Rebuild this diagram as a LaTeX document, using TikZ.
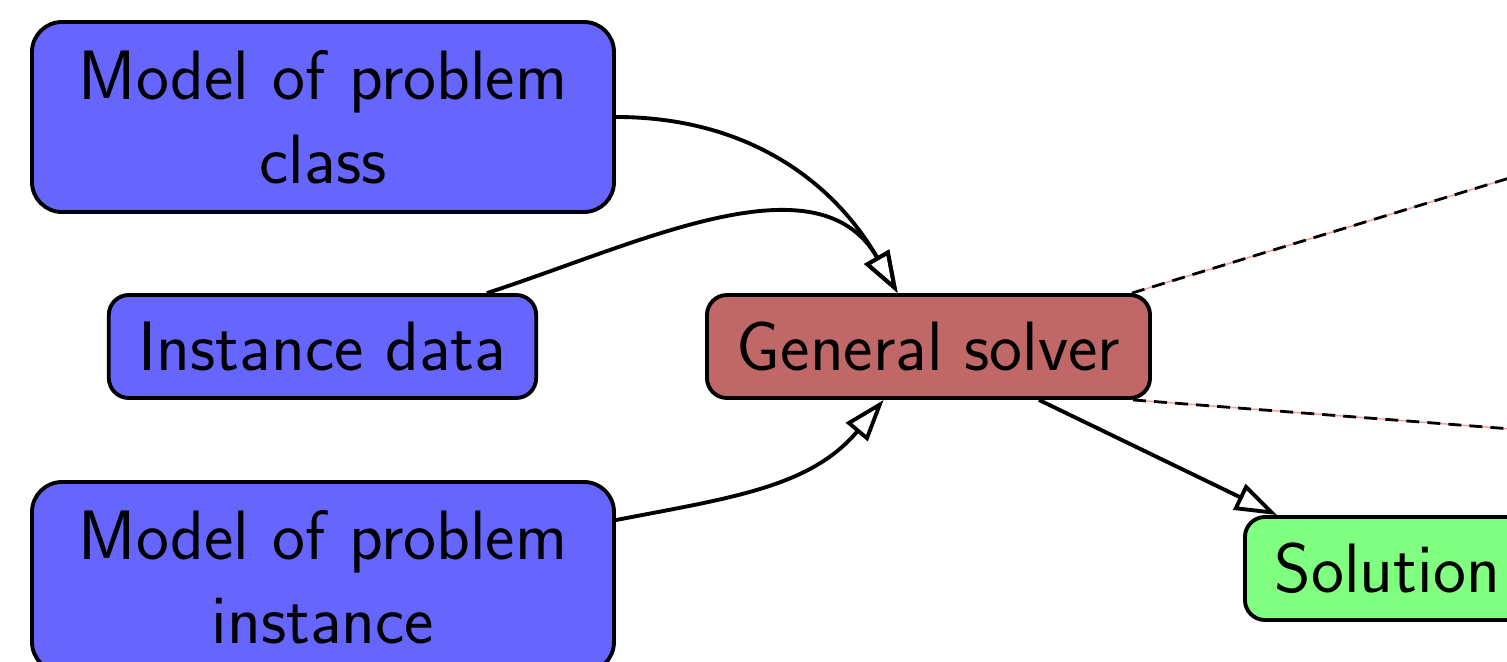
\documentclass[tikz,border=0pt]{standalone}
\usetikzlibrary{arrows.meta}

\definecolor{solverred}{RGB}{192,104,104}

\tikzset{
  box/.style={draw, line width=1.1pt, rounded corners=0.2cm, font=\sffamily\fontsize{19.9}{24}\selectfont,
    align=center, inner xsep=0.3cm, minimum height=1.03cm},
  input/.style={box, fill=blue!60},
  model/.style={input, text width=5.22cm, minimum height=1.9cm, rounded corners=0.3cm},
  flow/.style={line width=1.1pt, -{Triangle[open, length=0.42cm, width=0.28cm]}},
  zoomline/.style={line width=0.8pt, dash pattern=on 3.7pt off 2.3pt, preaction={draw, solid, thin, red!40}}
}

\begin{document}
\begin{tikzpicture}
\useasboundingbox (0,0) rectangle (15.07,-6.62);
\clip (0,0) rectangle (15.07,-6.62);

% inputs on the left
\node[model] (class) at (3.23,-1.17) {Model of problem\\class};
\node[input] (data) at (3.225,-3.465) {Instance data};
\node[model] (inst) at (3.23,-5.77) {Model of problem\\instance};

% solver and its result
\node[box, fill=solverred] (solver) at (9.285,-3.465) {General solver};
\node[box, fill=green!50, anchor=west] (solution) at (12.43,-5.685) {Solution};

\coordinate (zoomtop) at (17,-1.2);
\coordinate (zoombot) at (17,-4.435);

\draw[flow] (class.east) to[out=0, in=120] (solver);
\draw[flow] (data) to[out=18, in=120] (solver);
\draw[flow] (inst) to[out=11, in=230] (solver);
\draw[flow] (solver) -- (solution);

\draw[zoomline] ([xshift=-0.2cm]solver.north east) -- (zoomtop);
\draw[zoomline] ([xshift=-0.19cm]solver.south east) -- (zoombot);
\end{tikzpicture}
\end{document}
